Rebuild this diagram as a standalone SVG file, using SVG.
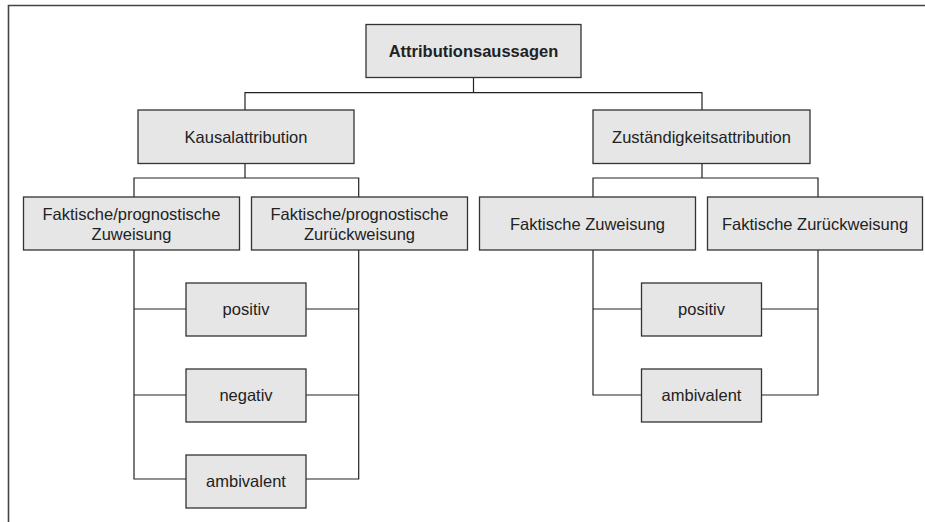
<svg xmlns="http://www.w3.org/2000/svg" width="925" height="522" viewBox="0 0 925 522">
<style>
.box{fill:#e6e6e6;stroke:#333;stroke-width:1.3}
.t{font-family:"Liberation Sans",Arial,sans-serif;font-size:16.5px;fill:#222;text-anchor:middle}
.b{font-weight:bold}
.c{fill:none;stroke:#222;stroke-width:1.2}
.frame{fill:none;stroke:#444;stroke-width:1.6}
</style>
<rect width="925" height="522" fill="#fff"/>
<path class="frame" d="M8.5,522 V5.5 H925"/>
<g id="connectors">
<path class="c" d="M473.5,77.5 V92.7 M245,110 V92.7 H702 V110"/>
<path class="c" d="M245,163.5 V178 M134,197 V178 H358.7 V197"/>
<path class="c" d="M702,163.5 V178 M593,197 V178 H818 V197"/>
<path class="c" d="M134,250 V479 H186 M358.7,250 V479 H306 M134,309 H186 M306,309 H358.7 M134,395 H186 M306,395 H358.7"/>
<path class="c" d="M593,250 V395 H641.5 M818,250 V395 H761.5 M593,309 H641.5 M761.5,309 H818"/>
</g>
<g id="root"><rect class="box" x="366" y="24.5" width="215" height="53"/><text class="t b" x="473.5" y="57">Attributionsaussagen</text></g>
<g id="kausal"><rect class="box" x="138" y="110" width="216" height="53.5"/><text class="t" x="246" y="142.8">Kausalattribution</text></g>
<g id="zustaendigkeit"><rect class="box" x="593" y="110" width="217" height="53.5"/><text class="t" x="701.5" y="142.8">Zuständigkeitsattribution</text></g>
<g id="fp-zuweisung"><rect class="box" x="23.5" y="197" width="216" height="53"/><text class="t" x="131.5" y="219.5">Faktische/prognostische</text><text class="t" x="131.5" y="239.5">Zuweisung</text></g>
<g id="fp-zurueckweisung"><rect class="box" x="251.5" y="197" width="216" height="53"/><text class="t" x="359.5" y="219.5">Faktische/prognostische</text><text class="t" x="359.5" y="239.5">Zurückweisung</text></g>
<g id="f-zuweisung"><rect class="box" x="479.5" y="197" width="216" height="53"/><text class="t" x="587.5" y="229.5">Faktische Zuweisung</text></g>
<g id="f-zurueckweisung"><rect class="box" x="707.5" y="197" width="215" height="53"/><text class="t" x="815" y="229.5">Faktische Zurückweisung</text></g>
<g id="positiv-l"><rect class="box" x="186" y="283" width="120" height="53"/><text class="t" x="246" y="315">positiv</text></g>
<g id="negativ-l"><rect class="box" x="186" y="369" width="120" height="53"/><text class="t" x="246" y="401">negativ</text></g>
<g id="ambivalent-l"><rect class="box" x="186" y="455" width="120" height="53"/><text class="t" x="246" y="487">ambivalent</text></g>
<g id="positiv-r"><rect class="box" x="641.5" y="283" width="120" height="53"/><text class="t" x="701.5" y="315">positiv</text></g>
<g id="ambivalent-r"><rect class="box" x="641.5" y="369" width="120" height="53"/><text class="t" x="701.5" y="401">ambivalent</text></g>
</svg>
